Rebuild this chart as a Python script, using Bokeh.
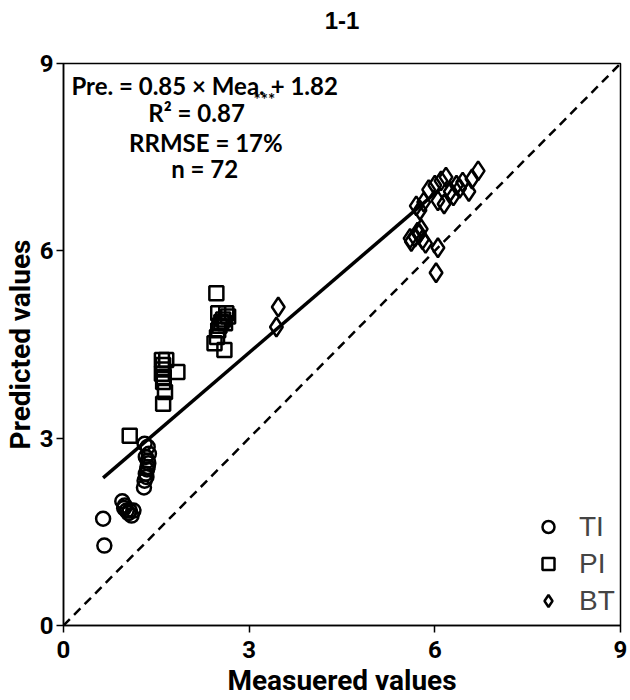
from bokeh.plotting import figure
from bokeh.models import Range1d, FixedTicker, Label, Legend, LegendItem, LinearAxis
from bokeh.embed import file_html
from bokeh.resources import INLINE

# Data
ti_x = [0.64, 0.66, 0.95, 0.99, 1.07, 1.10, 1.02, 1.13, 1.05, 0.98,
        1.30, 1.31, 1.33, 1.36, 1.36, 1.38, 1.36, 1.31, 1.34, 1.37, 1.33, 1.35]
ti_y = [1.71, 1.28, 1.99, 1.92, 1.84, 1.76, 1.84, 1.84, 1.80, 1.88,
        2.21, 2.32, 2.43, 2.54, 2.64, 2.75, 2.86, 2.91, 2.38, 2.60, 2.70, 2.50]

pi_x = [1.07, 1.61, 1.64, 1.61, 1.59, 1.61, 1.59, 1.66, 1.84, 1.62, 1.60,
        2.47, 2.50, 2.55, 2.50, 2.61, 2.63, 2.44, 2.60, 2.66, 2.52, 2.58, 2.48]
pi_y = [3.04, 3.55, 3.74, 3.90, 4.03, 4.17, 4.25, 4.25, 4.06, 3.98, 4.10,
        5.32, 5.00, 4.86, 4.73, 4.84, 5.00, 4.52, 4.41, 4.95, 4.80, 4.90, 4.62]

bt_x = [3.47, 3.44, 5.62, 5.68, 5.75, 5.80, 5.72, 5.85, 5.70, 5.76, 5.90, 6.00,
        6.10, 6.18, 6.25, 6.35, 6.45, 6.70, 6.30, 6.05, 6.15, 6.55, 6.05, 6.02,
        5.60, 5.78, 6.40, 6.60, 5.82]
bt_y = [5.10, 4.78, 6.15, 6.22, 6.28, 6.18, 6.30, 6.12, 6.72, 6.65, 6.98, 7.05,
        7.12, 7.18, 6.95, 7.05, 7.10, 7.28, 6.88, 6.80, 6.75, 6.95, 6.05, 5.65,
        6.20, 6.35, 7.00, 7.15, 6.78]

slope = 0.85
intercept = 1.82
ticks = [0, 3, 6, 9]
title_text = "1-1"

p = figure(frame_width=557, frame_height=562, output_backend="svg", toolbar_location=None,
           x_range=Range1d(0, 9), y_range=Range1d(0, 9),
           min_border_top=63, min_border_right=8, min_border_left=0, min_border_bottom=0)

p.xgrid.visible = False
p.ygrid.visible = False
p.outline_line_color = "black"
p.outline_line_width = 1.5
p.background_fill_color = "white"

for ax in (p.xaxis[0], p.yaxis[0]):
    ax.ticker = FixedTicker(ticks=ticks)
    ax.minor_tick_line_color = None
    ax.major_tick_in = 0
    ax.major_tick_out = 7
    ax.major_tick_line_width = 1.5
    ax.axis_line_width = 1.5
    ax.major_label_text_font = "Roboto"
    ax.major_label_text_font_style = "bold"
    ax.major_label_text_font_size = "24px"
    ax.major_label_text_color = "black"
    ax.major_label_text_line_height = 1.0
    ax.axis_label_text_font = "Roboto"
    ax.axis_label_text_font_style = "bold"
    ax.axis_label_text_font_size = "28px"
    ax.axis_label_text_color = "black"
    ax.axis_label_text_line_height = 1.0
p.xaxis.axis_label = "Measuered values"
p.yaxis.axis_label = "Predicted values"
p.yaxis.major_label_orientation = "horizontal"
p.xaxis.major_label_standoff = 8
p.xaxis.axis_label_standoff = 3
p.yaxis.major_label_standoff = 3
p.yaxis.axis_label_standoff = 0

# title as the label of a bare axis above the frame
top_axis = LinearAxis(axis_label=title_text, ticker=FixedTicker(ticks=[]),
                      axis_line_color=None, major_tick_line_color=None,
                      minor_tick_line_color=None, major_tick_out=0, major_tick_in=0,
                      major_label_text_font_size="0px", major_label_standoff=0,
                      axis_label_standoff=35, axis_label_text_font="Liberation Sans",
                      axis_label_text_font_style="bold", axis_label_text_font_size="24px",
                      axis_label_text_color="black", axis_label_text_line_height=1.0)
p.add_layout(top_axis, "above")

# 1:1 line
p.line([0, 9], [0, 9], line_color="black", line_width=2.5, line_dash="9 6")

# regression line
all_x = ti_x + pi_x + bt_x
xmin, xmax = min(all_x), 6.1
p.line([xmin, xmax], [slope * xmin + intercept, slope * xmax + intercept],
       line_color="black", line_width=3.5)

r_ti = p.scatter(ti_x, ti_y, marker="circle", size=14, fill_alpha=0,
                 line_color="black", line_width=2.5)
r_pi = p.scatter(pi_x, pi_y, marker="square", size=14, fill_alpha=0,
                 line_color="black", line_width=2.5)
r_bt = p.scatter(bt_x, bt_y, marker="diamond", size=19, fill_alpha=0,
                 line_color="black", line_width=2.5)

legend = Legend(items=[LegendItem(label="TI", renderers=[r_ti]),
                       LegendItem(label="PI", renderers=[r_pi]),
                       LegendItem(label="BT", renderers=[r_bt])],
                location=(470, 7), border_line_color=None,
                background_fill_alpha=0, label_text_font="Liberation Sans",
                label_text_font_size="28px", glyph_width=30, glyph_height=35,
                spacing=2, margin=0, padding=0, label_standoff=16)
p.add_layout(legend)

font = "Lato"
lines = [("Pre. = 0.85 \u00d7 Mea. + 1.82", 2.28, 8.65), ("R\u00b2 = 0.87", 2.15, 8.21),
         ("RRMSE = 17%", 2.30, 7.74), ("n = 72", 2.28, 7.32)]
for t, xx, yy in lines:
    p.add_layout(Label(x=xx, y=yy, text=t, text_align="center", text_baseline="middle",
                       text_font=font, text_font_style="bold", text_font_size="24px",
                       text_color="black"))
p.add_layout(Label(x=3.07, y=8.43, text="***", text_align="left", text_baseline="middle",
                   text_font=font, text_font_style="bold", text_font_size="17px",
                   text_color="black"))

open("out.html", "w").write(file_html(p, INLINE))
